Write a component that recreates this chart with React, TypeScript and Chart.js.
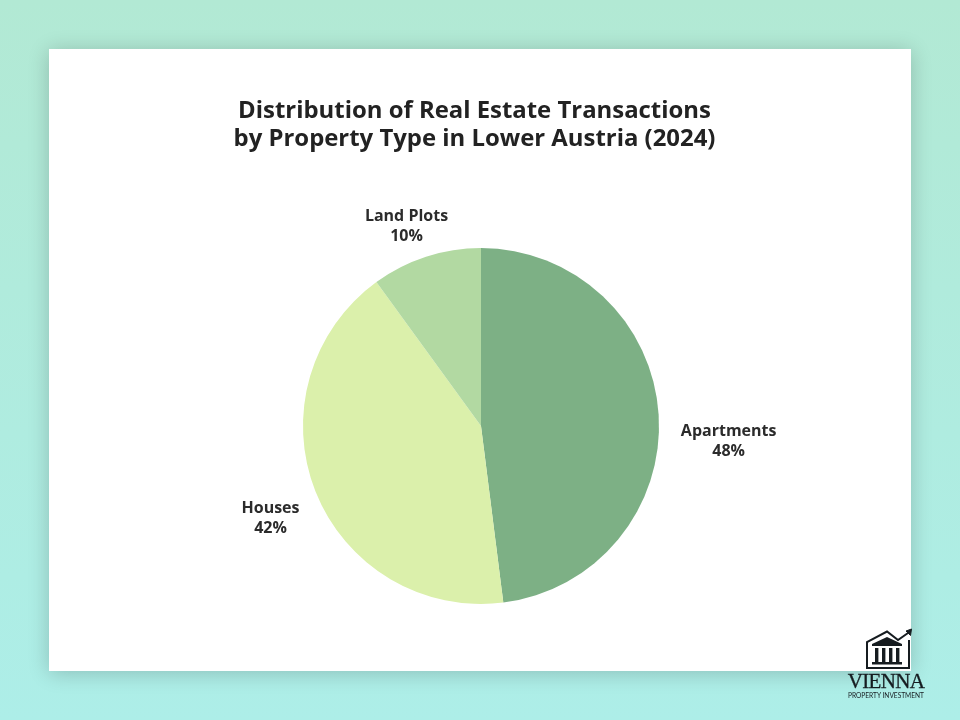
import { useEffect, useRef } from "react"
import { Chart, registerables } from "chart.js"

Chart.register(...registerables)

const categories = ["Apartments", "Houses", "Land Plots"]
const shares = [48, 42, 10]
const sliceColors = ["#7DB085", "#DBF0AB", "#B2D9A2"]
const titleLines = ["Distribution of Real Estate Transactions", "by Property Type in Lower Austria (2024)"]

// where each label's middle sits relative to the outer edge of its slice
const labelShifts = [
    { x: 70, y: 27 },
    { x: -45, y: 27 },
    { x: -19.5, y: -30 },
]

const FONT = '"Open Sans", sans-serif'

const sliceLabels = {
    id: "sliceLabels",
    afterDatasetsDraw(chart: Chart) {
        const { ctx } = chart
        const arcs = chart.getDatasetMeta(0).data as any[]
        ctx.save()
        ctx.font = `bold 16px ${FONT}`
        ctx.fillStyle = "#2b2b2b"
        ctx.textAlign = "center"
        ctx.textBaseline = "middle"
        arcs.forEach((arc, i) => {
            const { x, y, startAngle, endAngle, outerRadius } = arc.getProps(
                ["x", "y", "startAngle", "endAngle", "outerRadius"],
                true,
            )
            const mid = (startAngle + endAngle) / 2
            const px = x + Math.cos(mid) * outerRadius + labelShifts[i].x
            const py = y + Math.sin(mid) * outerRadius + labelShifts[i].y
            ctx.fillText(categories[i], px, py - 10)
            ctx.fillText(`${shares[i]}%`, px, py + 10)
        })
        ctx.restore()
    },
}

function PieChart() {
    const chartRef = useRef<HTMLCanvasElement>(null)

    useEffect(() => {
        if (!chartRef.current) return
        const chart = new Chart(chartRef.current, {
            type: "pie",
            data: {
                labels: categories,
                datasets: [{ data: shares, backgroundColor: sliceColors, borderWidth: 0 }],
            },
            options: {
                responsive: false,
                animation: false,
                // card is 862x622 at (49,49); pie circle spans x 303-659, y 248-604
                layout: { padding: { left: 254, right: 252, top: 199, bottom: 67 } },
                plugins: { legend: { display: false }, tooltip: { enabled: false } },
            },
            plugins: [sliceLabels],
        })
        return () => chart.destroy()
    }, [])

    return <canvas ref={chartRef} width={862} height={622} style={{ position: "absolute", left: 0, top: 0 }} />
}

function Logo() {
    return (
        <div style={{ position: "absolute", left: 840, top: 625, width: 92, height: 80 }}>
            <svg width="92" height="46" viewBox="0 0 92 46" style={{ position: "absolute", left: 0, top: 0 }}>
                <path d="M69 15 V43 H27 V17 L47 6.5 L58 15 L68 8" fill="none" stroke="#161c20" strokeWidth="2" />
                <path d="M66 6 L71.5 4 L70.5 10.5 Z" fill="#161c20" stroke="#161c20" />
                <path d="M32 19 L47 12 L62 19 Z" fill="#161c20" />
                <rect x="32" y="19" width="30" height="2" fill="#161c20" />
                <rect x="35" y="23" width="3.4" height="14" fill="#161c20" />
                <rect x="42" y="23" width="3.4" height="14" fill="#161c20" />
                <rect x="49" y="23" width="3.4" height="14" fill="#161c20" />
                <rect x="56" y="23" width="3.4" height="14" fill="#161c20" />
                <rect x="32" y="37" width="30" height="2.5" fill="#161c20" />
            </svg>
            <div style={{ position: "absolute", left: 0, width: 92, top: 45, textAlign: "center", fontFamily: '"Liberation Serif", serif', fontSize: 21, lineHeight: "22px", color: "#161c20", letterSpacing: -0.7, WebkitTextStroke: "0.3px #161c20" }}>
                VIENNA
            </div>
            <div style={{ position: "absolute", left: 0, width: 92, top: 66, textAlign: "center", fontFamily: "Lato, sans-serif", fontSize: 6.6, lineHeight: "8px", color: "#161c20", whiteSpace: "nowrap" }}>
                PROPERTY INVESTMENT
            </div>
        </div>
    )
}

export default function App() {
    useEffect(() => {
        document.body.style.margin = "0"
    }, [])

    return (
        <div style={{ position: "relative", width: 960, height: 720, overflow: "hidden", background: "linear-gradient(180deg, #B2E9D4 0%, #ADEEE8 100%)" }}>
            <div style={{ position: "absolute", left: 49, top: 49, width: 862, height: 622, background: "#fff", boxShadow: "0 2px 20px rgba(0,0,0,0.2)" }}>
                <PieChart />
            </div>
            <div style={{ position: "absolute", left: 174.5, top: 95, width: 600, textAlign: "center", fontFamily: FONT, fontWeight: 700, fontSize: 23.9, lineHeight: "28px", color: "#222", whiteSpace: "nowrap" }}>
                {titleLines.map((line) => (
                    <div key={line}>{line}</div>
                ))}
            </div>
            <Logo />
        </div>
    )
}
